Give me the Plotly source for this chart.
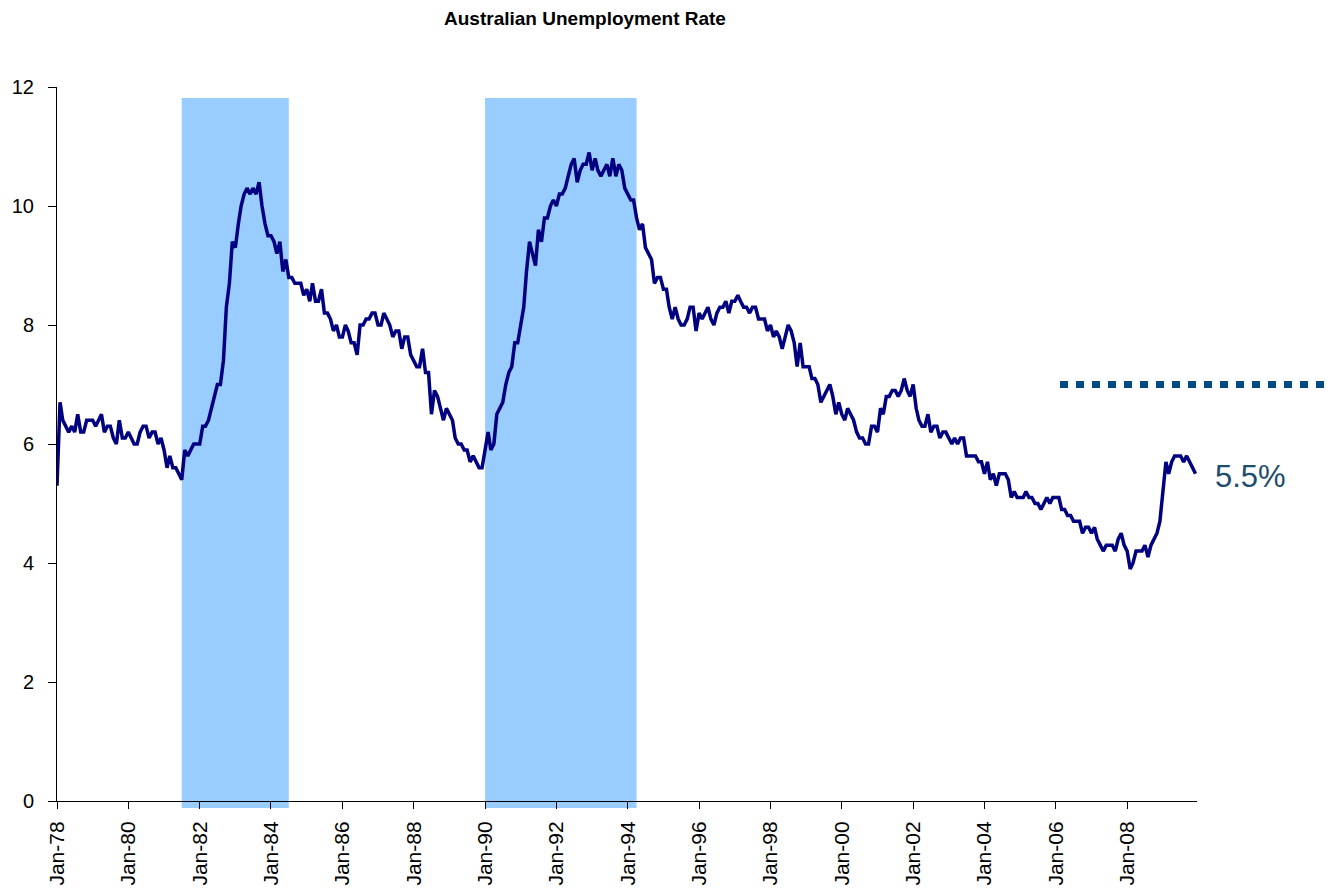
import pandas as pd
import plotly.graph_objects as go

# monthly unemployment rate (%), Jan-78 .. Dec-09, one list per year
y1978 = [5.3, 6.7, 6.4, 6.3, 6.2, 6.3, 6.2, 6.5, 6.2, 6.2, 6.4, 6.4]
y1979 = [6.4, 6.3, 6.4, 6.5, 6.2, 6.3, 6.3, 6.1, 6.0, 6.4, 6.1, 6.1]
y1980 = [6.2, 6.1, 6.0, 6.0, 6.2, 6.3, 6.3, 6.1, 6.2, 6.2, 6.0, 6.1]
y1981 = [5.9, 5.6, 5.8, 5.6, 5.6, 5.5, 5.4, 5.9, 5.8, 5.9, 6.0, 6.0]
y1982 = [6.0, 6.3, 6.3, 6.4, 6.6, 6.8, 7.0, 7.0, 7.4, 8.3, 8.7, 9.4]
y1983 = [9.3, 9.7, 10.0, 10.2, 10.3, 10.2, 10.3, 10.2, 10.4, 10.0, 9.7, 9.5]
y1984 = [9.5, 9.4, 9.2, 9.4, 8.9, 9.1, 8.8, 8.8, 8.7, 8.7, 8.7, 8.5]
y1985 = [8.6, 8.4, 8.7, 8.4, 8.4, 8.6, 8.2, 8.2, 8.1, 7.9, 8.0, 7.8]
y1986 = [7.8, 8.0, 7.9, 7.7, 7.7, 7.5, 8.0, 8.0, 8.1, 8.1, 8.2, 8.2]
y1987 = [8.0, 8.0, 8.2, 8.1, 8.0, 7.8, 7.9, 7.9, 7.6, 7.8, 7.8, 7.5]
y1988 = [7.4, 7.3, 7.3, 7.6, 7.2, 7.2, 6.5, 6.9, 6.8, 6.6, 6.4, 6.6]
y1989 = [6.5, 6.4, 6.1, 6.0, 6.0, 5.9, 5.9, 5.7, 5.8, 5.7, 5.6, 5.6]
y1990 = [5.9, 6.2, 5.9, 6.0, 6.5, 6.6, 6.7, 7.0, 7.2, 7.3, 7.7, 7.7]
y1991 = [8.0, 8.3, 8.9, 9.4, 9.2, 9.0, 9.6, 9.4, 9.8, 9.8, 10.0, 10.1]
y1992 = [10.0, 10.2, 10.2, 10.3, 10.5, 10.7, 10.8, 10.4, 10.6, 10.7, 10.7, 10.9]
y1993 = [10.6, 10.8, 10.6, 10.5, 10.6, 10.7, 10.5, 10.8, 10.5, 10.7, 10.6, 10.3]
y1994 = [10.2, 10.1, 10.1, 9.8, 9.6, 9.7, 9.3, 9.2, 9.1, 8.7, 8.8, 8.8]
y1995 = [8.6, 8.6, 8.3, 8.1, 8.3, 8.1, 8.0, 8.0, 8.1, 8.3, 8.3, 7.9]
y1996 = [8.2, 8.1, 8.2, 8.3, 8.1, 8.0, 8.2, 8.3, 8.3, 8.4, 8.2, 8.4]
y1997 = [8.4, 8.5, 8.4, 8.3, 8.3, 8.2, 8.3, 8.3, 8.1, 8.1, 8.1, 7.9]
y1998 = [8.0, 7.8, 7.9, 7.8, 7.6, 7.8, 8.0, 7.9, 7.7, 7.3, 7.7, 7.3]
y1999 = [7.3, 7.3, 7.1, 7.1, 7.0, 6.7, 6.8, 6.9, 7.0, 6.8, 6.5, 6.7]
y2000 = [6.5, 6.4, 6.6, 6.5, 6.4, 6.2, 6.1, 6.1, 6.0, 6.0, 6.3, 6.3]
y2001 = [6.2, 6.6, 6.5, 6.8, 6.8, 6.9, 6.9, 6.8, 6.9, 7.1, 6.9, 6.8]
y2002 = [7.0, 6.6, 6.4, 6.3, 6.3, 6.5, 6.2, 6.3, 6.3, 6.1, 6.2, 6.2]
y2003 = [6.1, 6.0, 6.1, 6.0, 6.1, 6.1, 5.8, 5.8, 5.8, 5.8, 5.7, 5.7]
y2004 = [5.5, 5.7, 5.4, 5.5, 5.3, 5.5, 5.5, 5.5, 5.4, 5.1, 5.2, 5.1]
y2005 = [5.1, 5.1, 5.2, 5.1, 5.1, 5.0, 5.0, 4.9, 5.0, 5.1, 5.0, 5.1]
y2006 = [5.1, 5.1, 4.9, 4.9, 4.8, 4.8, 4.7, 4.7, 4.7, 4.5, 4.6, 4.6]
y2007 = [4.5, 4.6, 4.4, 4.3, 4.2, 4.3, 4.3, 4.3, 4.2, 4.4, 4.5, 4.3]
y2008 = [4.2, 3.9, 4.0, 4.2, 4.2, 4.2, 4.3, 4.1, 4.3, 4.4, 4.5, 4.7]
y2009 = [5.2, 5.7, 5.5, 5.7, 5.8, 5.8, 5.8, 5.7, 5.8, 5.7, 5.6, 5.5]

years = [y1978, y1979, y1980, y1981, y1982, y1983, y1984, y1985, y1986, y1987,
         y1988, y1989, y1990, y1991, y1992, y1993, y1994, y1995, y1996, y1997,
         y1998, y1999, y2000, y2001, y2002, y2003, y2004, y2005, y2006, y2007,
         y2008, y2009]
rate = [v for yr in years for v in yr]
dates = pd.date_range("1978-01-01", periods=len(rate), freq="MS")

# recession bands (start, end)
recessions = [("1981-07-01", "1984-07-01"), ("1990-01-01", "1994-04-01")]
target_level = 7.0
last_label = "5.5%"

# the page body adds an 8px margin, so the figure is 8px smaller each way
W, H = 1324, 883

fig = go.Figure()

fig.add_trace(go.Scatter(
    x=dates, y=rate, mode="lines",
    line=dict(color="#000080", width=3.5),
    showlegend=False, hoverinfo="x+y"
))

for start, end in recessions:
    fig.add_shape(type="rect", xref="x", yref="paper",
                  x0=start, x1=end, y0=-0.0098, y1=0.9846,
                  fillcolor="#99CCFF", line=dict(width=0), layer="below")

# dotted reference line running past the plot area to the page edge
fig.add_shape(type="line", xref="paper", yref="y",
              x0=0.8798, x1=1.13, y0=target_level, y1=target_level,
              line=dict(color="#004A80", width=7, dash="8px,8px"))

fig.add_annotation(text=last_label, xref="paper", yref="paper",
                   x=1.0137, y=(801 - 476) / 714, xanchor="left", yanchor="middle",
                   showarrow=False, font=dict(size=31, color="#1B4D6E"))

fig.update_layout(
    width=W, height=H,
    margin=dict(l=49, r=135, t=79, b=90),
    paper_bgcolor="white", plot_bgcolor="rgba(0,0,0,0)",
    font=dict(family="Liberation Sans, Arial, sans-serif", color="black"),
    title=dict(text="<b>Australian Unemployment Rate</b>",
               font=dict(size=19, color="black"),
               xref="container", x=577 / W, xanchor="center",
               yref="container", y=1 - 10 / H, yanchor="middle"),
    xaxis=dict(
        type="date", range=["1978-01-01", "2009-12-16"],
        tick0="1978-01-01", dtick="M24", tickformat="%b-%y",
        tickangle=-90, ticks="outside", ticklen=7, tickcolor="black",
        showline=True, linecolor="black", linewidth=1,
        showgrid=False, zeroline=False, automargin=False,
        tickfont=dict(size=21, color="black"), ticklabelstandoff=4
    ),
    yaxis=dict(
        range=[0, 12], dtick=2, ticks="outside", ticklen=8, tickcolor="black",
        showline=True, linecolor="black", linewidth=1,
        showgrid=False, zeroline=False, automargin=False,
        tickfont=dict(size=20, color="black"), ticklabelstandoff=10
    ),
)

fig.write_html("out.html")
